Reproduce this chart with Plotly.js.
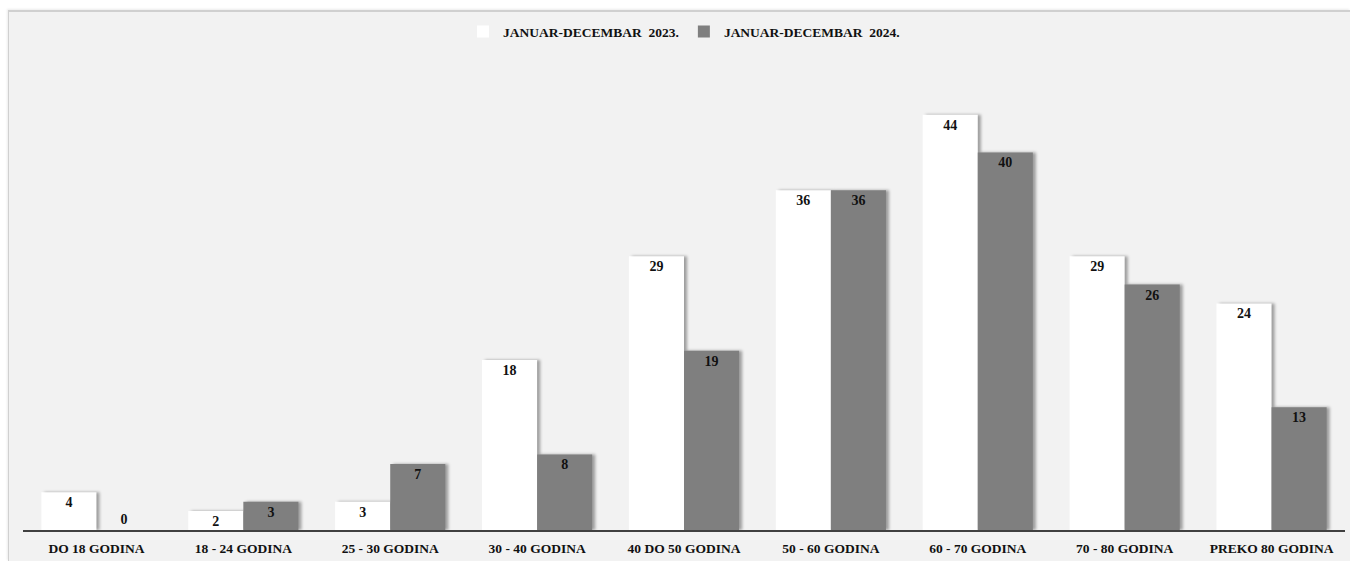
<!DOCTYPE html>
<html>
<head>
<meta charset="utf-8">
<script src="https://cdn.plot.ly/plotly-3.0.1.min.js"></script>
<style>
  html, body { margin: 0; padding: 0; background: #ffffff; width: 1350px; height: 561px; overflow: hidden; }
  #wrap { position: absolute; left: 8px; top: 10px; width: 1342px; height: 551px;
          border-left: 1px solid #d0d0d0; border-top: 2px solid #d0d0d0; box-sizing: border-box;
          box-shadow: -1px -1px 2px rgba(0,0,0,0.08); }
  #chart { width: 100%; height: 100%; }
  .trace.bars .point path { filter: drop-shadow(3px 0px 1.5px rgba(0,0,0,0.35)); }
</style>
</head>
<body>
<div id="wrap"><div id="chart"></div></div>
<script>
const categories = ["DO 18 GODINA", "18 - 24 GODINA", "25 - 30 GODINA", "30 - 40 GODINA", "40 DO 50 GODINA", "50 - 60 GODINA", "60 - 70 GODINA", "70 - 80 GODINA", "PREKO 80 GODINA"];
const series2023 = [4, 2, 3, 18, 29, 36, 44, 29, 24];
const series2024 = [0, 3, 7, 8, 19, 36, 40, 26, 13];
const name2023 = "JANUAR-DECEMBAR\u00a0 2023.";
const name2024 = "JANUAR-DECEMBAR\u00a0 2024.";

const FONT = "Liberation Serif, DejaVu Serif, serif";
function mk(name, vals, color) {
  const tf = { family: FONT, size: 14, color: "#111111", weight: "bold" };
  return {
    type: "bar", name: name, x: categories, y: vals,
    marker: { color: color, line: { width: 0 } },
    text: vals.map(String),
    textposition: vals.map(v => v === 0 ? "outside" : "inside"),
    insidetextanchor: "end",
    textangle: 0,
    constraintext: "none",
    cliponaxis: false,
    textfont: tf, insidetextfont: tf, outsidetextfont: tf,
    hoverinfo: "skip"
  };
}
const data = [mk(name2023, series2023, "#ffffff"), mk(name2024, series2024, "#7f7f7f")];
const layout = {
  width: 1341, height: 549,
  paper_bgcolor: "#f2f2f2", plot_bgcolor: "#f2f2f2",
  margin: { l: 14, r: 5, t: 46, b: 31 },
  barmode: "group", bargap: 0.25, bargroupgap: 0,
  font: { family: FONT, size: 13, color: "#111111", weight: "bold" },
  showlegend: true,
  legend: { orientation: "h", x: 0.5, xanchor: "center", yref: "container", y: 0.964, yanchor: "middle",
            bgcolor: "rgba(0,0,0,0)", font: { family: FONT, size: 13.5, color: "#111111", weight: "bold" },
            traceorder: "normal", itemwidth: 30 },
  xaxis: { type: "category", showline: true, linecolor: "#404040", linewidth: 1.5, ticks: "",
           showgrid: false, zeroline: false, fixedrange: true, ticklabelstandoff: 5,
           tickfont: { family: FONT, size: 13.5, color: "#111111", weight: "bold" } },
  yaxis: { range: [0, 50], visible: false, showgrid: false, zeroline: false, fixedrange: true }
};
Plotly.newPlot("chart", data, layout, { displayModeBar: false, staticPlot: true });
</script>
</body>
</html>
